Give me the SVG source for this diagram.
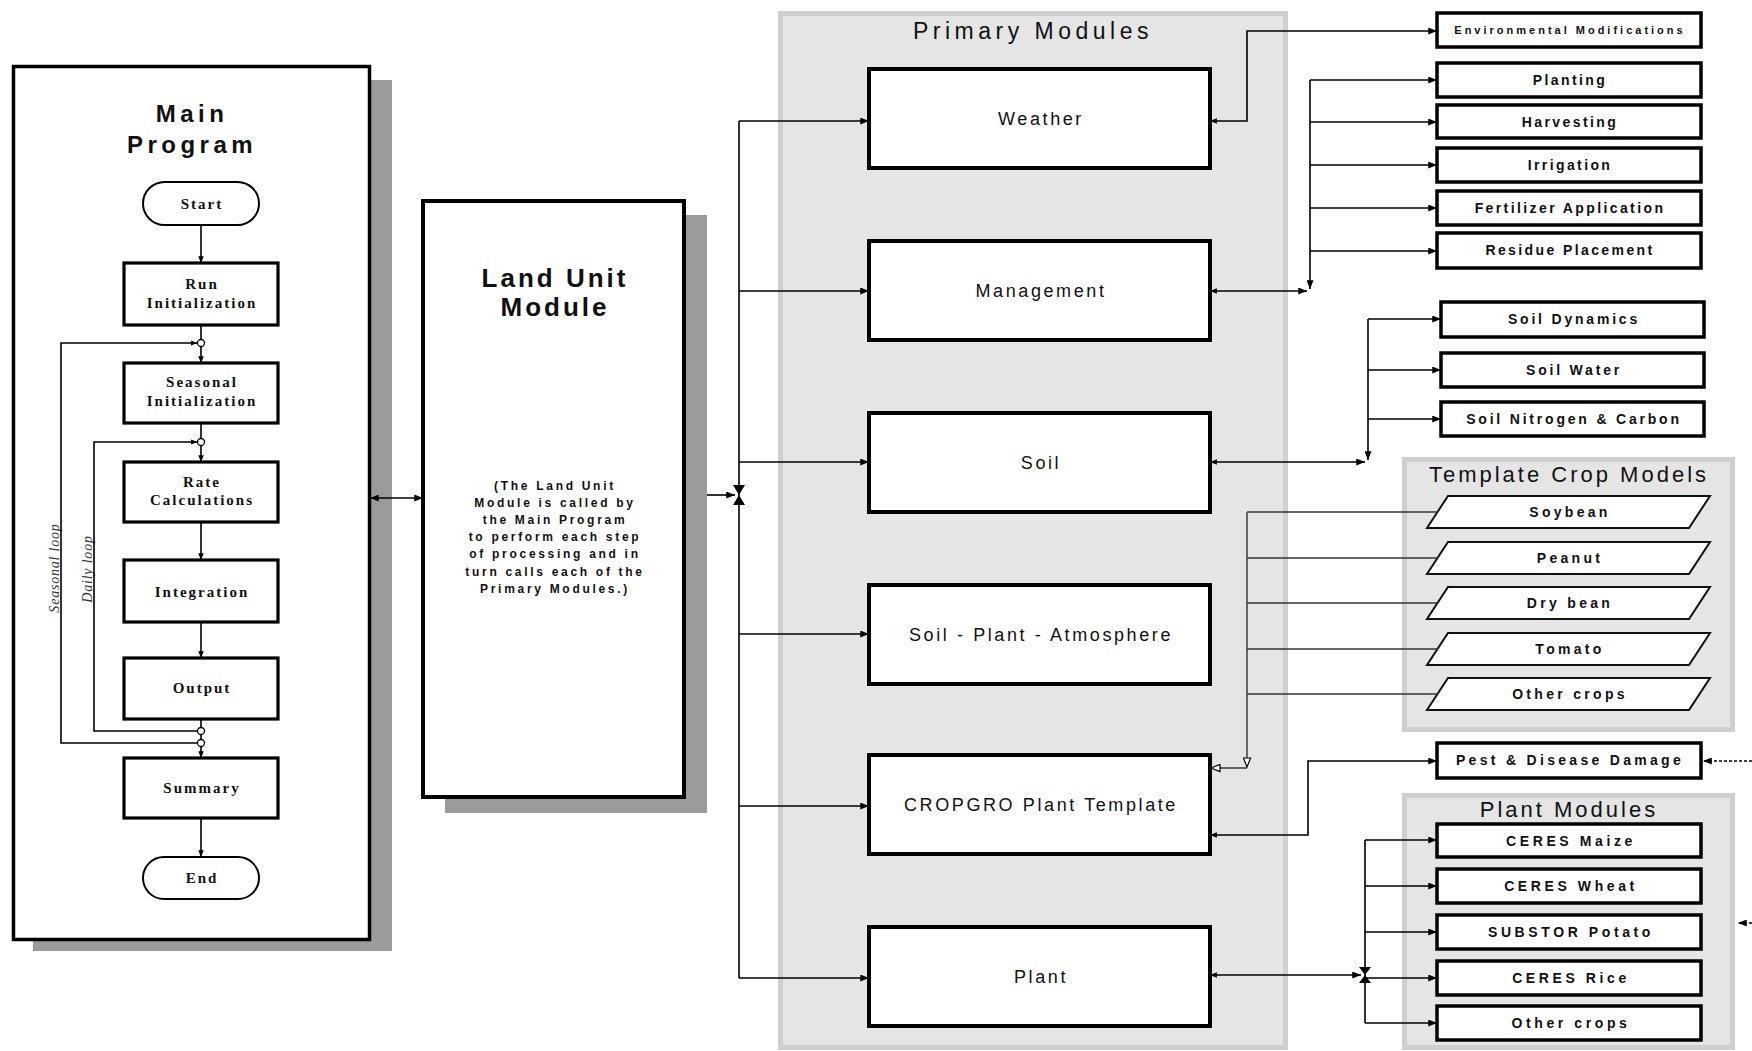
<svg xmlns="http://www.w3.org/2000/svg" width="1752" height="1051" viewBox="0 0 1752 1051">
<defs>
<style>
.panel{fill:#e5e5e5;stroke:#cfcfcf;stroke-width:5}
.shadow{fill:#9b9b9b}
.frame{fill:#fff;stroke:#000;stroke-width:3.5}
.fc{fill:#fff;stroke:#000;stroke-width:3.2}
.term{fill:#fff;stroke:#000;stroke-width:2}
.pm{fill:#fff;stroke:#000;stroke-width:4}
.sb{fill:#fff;stroke:#000;stroke-width:3.5}
.pg{fill:#fff;stroke:#111;stroke-width:2}
.ln{fill:none;stroke:#000;stroke-width:1.6}
.lg{fill:none;stroke:#333;stroke-width:1.4}
.dash{fill:none;stroke:#000;stroke-width:1.4;stroke-dasharray:3 2}
.jc{fill:#fff;stroke:#000;stroke-width:1.3}
.hg{fill:#000}
text{fill:#111;font-family:"Liberation Sans",Arial,sans-serif;text-anchor:middle}
.fct{font-family:"Liberation Serif","Times New Roman",serif;font-weight:bold;font-size:15px;letter-spacing:2px}
.loop{font-family:"Liberation Serif","Times New Roman",serif;font-style:italic;font-size:14px;letter-spacing:0.8px;fill:#333}
.t1{font-weight:bold;font-size:24px;letter-spacing:4.5px}
.t2{font-weight:bold;font-size:26px;letter-spacing:3px}
.par{font-weight:bold;font-size:12px;letter-spacing:2.7px}
.pmt{font-size:18px;letter-spacing:2.6px}
.ptitle{font-size:23px;letter-spacing:4.5px}
.stitle{font-size:22px;letter-spacing:3px}
.env{font-weight:bold;font-size:11px;letter-spacing:3px}
.mg{font-weight:bold;font-size:14px;letter-spacing:2.4px}
.so{font-weight:bold;font-size:14px;letter-spacing:2.8px}
.cr{font-weight:bold;font-size:14px;letter-spacing:3.3px}
.pl{font-weight:bold;font-size:14px;letter-spacing:3.6px}
</style>
<marker id="a" viewBox="0 0 10 8" refX="10" refY="4" markerWidth="9" markerHeight="7" markerUnits="userSpaceOnUse" orient="auto-start-reverse"><path d="M0,0 L10,4 L0,8 z" fill="#000"/></marker>
<marker id="s" viewBox="0 0 10 8" refX="10" refY="4" markerWidth="7" markerHeight="5.5" markerUnits="userSpaceOnUse" orient="auto-start-reverse"><path d="M0,0 L10,4 L0,8 z" fill="#000"/></marker>
<marker id="o" viewBox="0 0 12 10" refX="11" refY="5" markerWidth="11" markerHeight="9" markerUnits="userSpaceOnUse" orient="auto-start-reverse"><path d="M1,1 L11,5 L1,9 z" fill="#fff" stroke="#000" stroke-width="1.3"/></marker>
</defs>

<rect x="0" y="0" width="1752" height="1051" fill="#fff"/>

<!-- panels -->
<g id="primary-modules-panel">
<rect class="panel" x="780.5" y="13.5" width="505" height="1034"/>
<text class="ptitle" x="1033" y="39">Primary Modules</text>
</g>
<g id="template-crop-panel">
<rect class="panel" x="1404.5" y="459.5" width="328" height="270"/>
<text class="stitle" x="1569" y="482">Template Crop Models</text>
</g>
<g id="plant-modules-panel">
<rect class="panel" x="1404.5" y="795.5" width="328" height="252"/>
<text class="stitle" x="1569" y="817">Plant Modules</text>
</g>

<!-- Main program -->
<g id="main-program">
<rect class="shadow" x="33" y="80" width="359" height="871"/>
<rect class="frame" x="13.5" y="66.5" width="356" height="873"/>
<text class="t1" x="192" y="122">Main</text>
<text class="t1" x="192" y="153">Program</text>
</g>
<g id="start"><rect class="term" x="143" y="182" width="116" height="43" rx="21.5"/><text class="fct" x="202" y="209">Start</text></g>
<g id="run-init"><rect class="fc" x="124" y="263" width="154" height="62"/><text class="fct" x="202" y="289">Run</text><text class="fct" x="202" y="308">Initialization</text></g>
<g id="seasonal-init"><rect class="fc" x="124" y="363" width="154" height="60"/><text class="fct" x="202" y="387">Seasonal</text><text class="fct" x="202" y="406">Initialization</text></g>
<g id="rate-calc"><rect class="fc" x="124" y="462" width="154" height="60"/><text class="fct" x="202" y="487">Rate</text><text class="fct" x="202" y="505">Calculations</text></g>
<g id="integration"><rect class="fc" x="124" y="560" width="154" height="62"/><text class="fct" x="202" y="597">Integration</text></g>
<g id="output"><rect class="fc" x="124" y="658" width="154" height="61"/><text class="fct" x="202" y="693">Output</text></g>
<g id="summary"><rect class="fc" x="124" y="758" width="154" height="60"/><text class="fct" x="202" y="793">Summary</text></g>
<g id="end"><rect class="term" x="143" y="857" width="116" height="42" rx="21"/><text class="fct" x="202" y="883">End</text></g>
<g id="loop-labels">
<text class="loop" transform="translate(59,568) rotate(-90)">Seasonal loop</text>
<text class="loop" transform="translate(92,569) rotate(-90)">Daily loop</text>
</g>

<!-- Land unit -->
<g id="land-unit">
<rect class="shadow" x="445" y="215" width="262" height="598"/>
<rect class="frame" x="423" y="201" width="261" height="596" style="stroke-width:4"/>
<text class="t2" x="555" y="287">Land Unit</text>
<text class="t2" x="555" y="316">Module</text>
<text class="par" x="555" y="490">(The Land Unit</text>
<text class="par" x="555" y="507">Module is called by</text>
<text class="par" x="555" y="524">the Main Program</text>
<text class="par" x="555" y="541">to perform each step</text>
<text class="par" x="555" y="558">of processing and in</text>
<text class="par" x="555" y="576">turn calls each of the</text>
<text class="par" x="555" y="593">Primary Modules.)</text>
</g>

<!-- Primary modules -->
<g id="weather"><rect class="pm" x="869" y="69" width="341" height="99"/><text class="pmt" x="1041" y="125">Weather</text></g>
<g id="management"><rect class="pm" x="869" y="241" width="341" height="99"/><text class="pmt" x="1041" y="297">Management</text></g>
<g id="soil"><rect class="pm" x="869" y="413" width="341" height="99"/><text class="pmt" x="1041" y="469">Soil</text></g>
<g id="spa"><rect class="pm" x="869" y="585" width="341" height="99"/><text class="pmt" x="1041" y="641">Soil - Plant - Atmosphere</text></g>
<g id="cropgro"><rect class="pm" x="869" y="755" width="341" height="99"/><text class="pmt" x="1041" y="811">CROPGRO Plant Template</text></g>
<g id="plant"><rect class="pm" x="869" y="927" width="341" height="99"/><text class="pmt" x="1041" y="983">Plant</text></g>

<!-- right side small boxes -->
<g id="env-mod"><rect class="sb" x="1437" y="13" width="264" height="34"/><text class="env" x="1570" y="34">Environmental Modifications</text></g>
<g id="planting"><rect class="sb" x="1437" y="63" width="264" height="34"/><text class="mg" x="1570" y="85">Planting</text></g>
<g id="harvesting"><rect class="sb" x="1437" y="105" width="264" height="33"/><text class="mg" x="1570" y="126.5">Harvesting</text></g>
<g id="irrigation"><rect class="sb" x="1437" y="148" width="264" height="34"/><text class="mg" x="1570" y="170">Irrigation</text></g>
<g id="fertilizer"><rect class="sb" x="1437" y="191" width="264" height="34"/><text class="mg" x="1570" y="213">Fertilizer Application</text></g>
<g id="residue"><rect class="sb" x="1437" y="233" width="264" height="35"/><text class="mg" x="1570" y="255">Residue Placement</text></g>

<g id="soil-dynamics"><rect class="sb" x="1441" y="302" width="263" height="35"/><text class="so" x="1574" y="324">Soil Dynamics</text></g>
<g id="soil-water"><rect class="sb" x="1441" y="353" width="263" height="34"/><text class="so" x="1574" y="375">Soil Water</text></g>
<g id="soil-nc"><rect class="sb" x="1441" y="402" width="263" height="34"/><text class="so" x="1574" y="424">Soil Nitrogen &amp; Carbon</text></g>

<g id="soybean"><polygon class="pg" points="1448,496 1710,496 1689,528 1427,528"/><text class="cr" x="1570" y="517">Soybean</text></g>
<g id="peanut"><polygon class="pg" points="1448,542 1710,542 1689,574 1427,574"/><text class="cr" x="1570" y="563">Peanut</text></g>
<g id="drybean"><polygon class="pg" points="1448,587 1710,587 1689,619 1427,619"/><text class="cr" x="1570" y="608">Dry bean</text></g>
<g id="tomato"><polygon class="pg" points="1448,633 1710,633 1689,665 1427,665"/><text class="cr" x="1570" y="654">Tomato</text></g>
<g id="other-template"><polygon class="pg" points="1448,678 1710,678 1689,710 1427,710"/><text class="cr" x="1570" y="699">Other crops</text></g>

<g id="pest"><rect class="sb" x="1437" y="743" width="264" height="35"/><text class="cr" x="1570" y="765">Pest &amp; Disease Damage</text></g>

<g id="ceres-maize"><rect class="sb" x="1437" y="824" width="264" height="33"/><text class="pl" x="1571" y="846">CERES Maize</text></g>
<g id="ceres-wheat"><rect class="sb" x="1437" y="869" width="264" height="34"/><text class="pl" x="1571" y="891">CERES Wheat</text></g>
<g id="substor"><rect class="sb" x="1437" y="915" width="264" height="34"/><text class="pl" x="1571" y="937">SUBSTOR Potato</text></g>
<g id="ceres-rice"><rect class="sb" x="1437" y="961" width="264" height="34"/><text class="pl" x="1571" y="983">CERES Rice</text></g>
<g id="other-plant"><rect class="sb" x="1437" y="1006" width="264" height="34"/><text class="pl" x="1571" y="1028">Other crops</text></g>

<!-- connectors -->
<g id="connectors">
<!-- flowchart -->
<path class="ln" d="M201,225 V263" marker-end="url(#s)"/>
<path class="ln" d="M201,325 V339.5"/>
<path class="ln" d="M201,346.5 V363" marker-end="url(#s)"/>
<path class="ln" d="M201,423 V438.5"/>
<path class="ln" d="M201,445.5 V462" marker-end="url(#s)"/>
<path class="ln" d="M201,522 V560" marker-end="url(#s)"/>
<path class="ln" d="M201,622 V658" marker-end="url(#s)"/>
<path class="ln" d="M201,719 V727.5"/>
<path class="ln" d="M201,734.5 V739.5"/>
<path class="ln" d="M201,746.5 V758" marker-end="url(#s)"/>
<path class="ln" d="M201,818 V857" marker-end="url(#s)"/>
<path class="ln" d="M197.5,743 H61 V343 H197.5" marker-end="url(#s)"/>
<path class="ln" d="M197.5,731 H94 V442 H197.5" marker-end="url(#s)"/>
<circle class="jc" cx="201" cy="343" r="3.5"/>
<circle class="jc" cx="201" cy="442" r="3.5"/>
<circle class="jc" cx="201" cy="731" r="3.5"/>
<circle class="jc" cx="201" cy="743" r="3.5"/>

<!-- main <-> land unit -->
<path class="ln" d="M370,498 H423" marker-start="url(#a)" marker-end="url(#a)"/>
<!-- land unit -> bus -->
<path class="ln" d="M707,495 H735" marker-end="url(#a)"/>
<path class="ln" d="M739,121 V978"/>
<polygon class="hg" points="733,485 745,485 733,505 745,505"/>
<path class="ln" d="M739,121 H869" marker-end="url(#a)"/>
<path class="ln" d="M739,291 H869" marker-end="url(#a)"/>
<path class="ln" d="M739,462 H869" marker-end="url(#a)"/>
<path class="ln" d="M739,634 H869" marker-end="url(#a)"/>
<path class="ln" d="M739,806 H869" marker-end="url(#a)"/>
<path class="ln" d="M739,978 H869" marker-end="url(#a)"/>

<!-- weather -> env -->
<path class="ln" d="M1210,121 H1247 V31 H1437" marker-start="url(#s)" marker-end="url(#a)"/>
<!-- management -->
<path class="ln" d="M1210,291 H1307" marker-start="url(#s)" marker-end="url(#a)"/>
<path class="ln" d="M1310,80 V289" marker-end="url(#a)"/>
<path class="ln" d="M1310,80 H1437" marker-end="url(#a)"/>
<path class="ln" d="M1310,122 H1437" marker-end="url(#a)"/>
<path class="ln" d="M1310,165 H1437" marker-end="url(#a)"/>
<path class="ln" d="M1310,208 H1437" marker-end="url(#a)"/>
<path class="ln" d="M1310,251 H1437" marker-end="url(#a)"/>
<!-- soil -->
<path class="ln" d="M1210,462 H1365" marker-start="url(#s)" marker-end="url(#a)"/>
<path class="ln" d="M1368,319 V460" marker-end="url(#a)"/>
<path class="ln" d="M1368,319 H1441" marker-end="url(#a)"/>
<path class="ln" d="M1368,370 H1441" marker-end="url(#a)"/>
<path class="ln" d="M1368,419 H1441" marker-end="url(#a)"/>
<!-- template crops -> cropgro -->
<path class="lg" d="M1247,512 V767" marker-end="url(#o)"/>
<path class="lg" d="M1247,768 H1211" marker-end="url(#o)"/>
<path class="lg" d="M1247,512 H1438"/>
<path class="lg" d="M1247,558 H1438"/>
<path class="lg" d="M1247,603 H1438"/>
<path class="lg" d="M1247,649 H1438"/>
<path class="lg" d="M1247,694 H1438"/>
<!-- pest -->
<path class="ln" d="M1210,835 H1308 V761 H1437" marker-start="url(#s)" marker-end="url(#a)"/>
<path class="dash" d="M1752,761 H1703" marker-end="url(#a)"/>
<!-- plant -->
<path class="ln" d="M1210,975 H1361" marker-start="url(#s)" marker-end="url(#a)"/>
<path class="ln" d="M1365,840 V1023"/>
<polygon class="hg" points="1359,967 1371,967 1359,983 1371,983"/>
<path class="ln" d="M1365,840 H1437" marker-end="url(#a)"/>
<path class="ln" d="M1365,886 H1437" marker-end="url(#a)"/>
<path class="ln" d="M1365,932 H1437" marker-end="url(#a)"/>
<path class="ln" d="M1365,978 H1437" marker-end="url(#a)"/>
<path class="ln" d="M1365,1023 H1437" marker-end="url(#a)"/>
<path class="dash" d="M1752,923 H1738" marker-end="url(#a)"/>
</g>
</svg>
